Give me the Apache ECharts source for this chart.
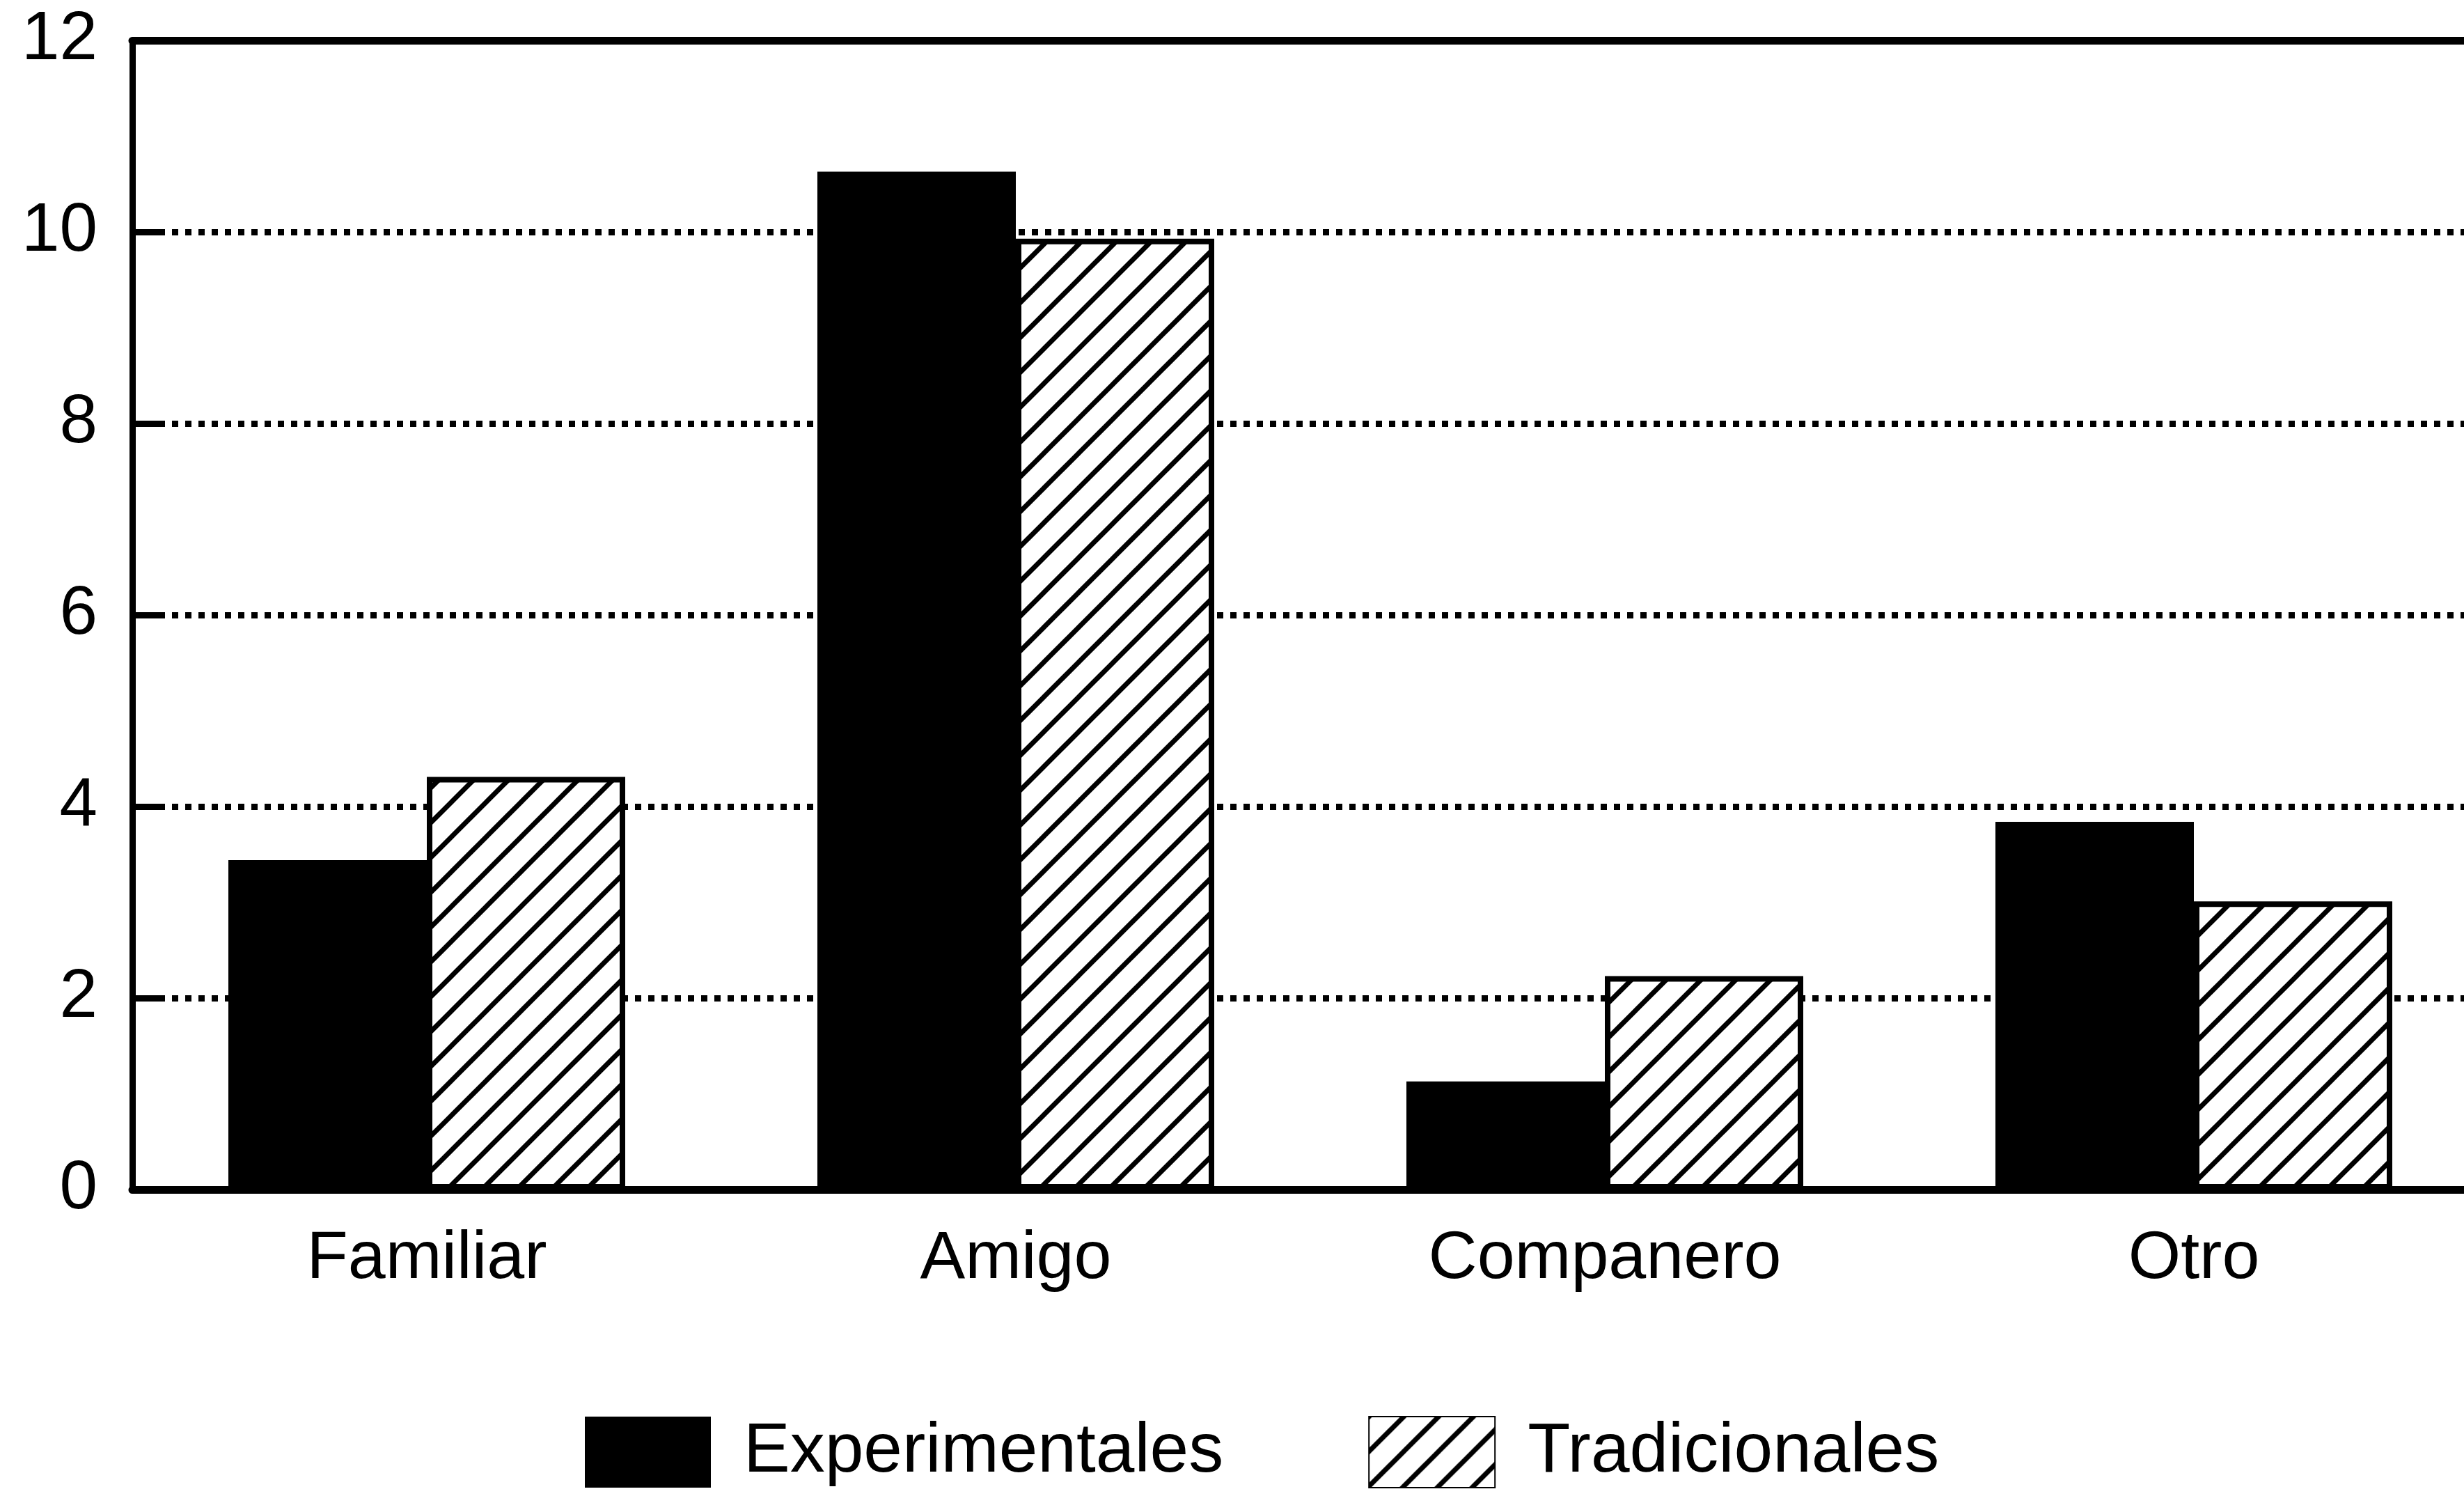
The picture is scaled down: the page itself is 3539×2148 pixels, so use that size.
<!DOCTYPE html>
<html>
<head>
<meta charset="utf-8">
<script src="https://cdn.jsdelivr.net/npm/echarts@6/dist/echarts.min.js"></script>
<style>
  html, body { margin: 0; padding: 0; background: #fff; }
  #chart { width: 3539px; height: 2148px; }
</style>
</head>
<body>
<div id="chart"></div>
<script>
var categories = ['Familiar', 'Amigo', 'Companero', 'Otro'];
var experimentales = [3.44, 10.63, 1.13, 3.84];
var tradicionales = [4.31, 9.93, 2.23, 3.01];
var yTicks = [0, 2, 4, 6, 8, 10, 12];

// diagonal hatch tile for the "Tradicionales" bars
function hatch() {
  var c = document.createElement('canvas');
  c.width = 50;
  c.height = 50;
  var ctx = c.getContext('2d');
  ctx.fillStyle = '#fff';
  ctx.fillRect(0, 0, 50, 50);
  ctx.strokeStyle = '#000';
  ctx.lineWidth = 7;
  [0, 50, 100].forEach(function (k) {
    ctx.beginPath();
    ctx.moveTo(-10, k + 10);
    ctx.lineTo(60, k - 60);
    ctx.stroke();
  });
  return c;
}

var font = 'Liberation Sans';
var chart = echarts.init(document.getElementById('chart'));

chart.setOption({
  backgroundColor: '#fff',
  animation: false,
  grid: {
    left: 190,
    right: -35,
    top: 58,
    bottom: 440,
    containLabel: false,
    outerBoundsMode: 'none'
  },
  legend: {
    left: 840,
    top: 2033,
    padding: 0,
    itemWidth: 181,
    itemHeight: 102,
    itemGap: 208,
    icon: 'rect',
    textStyle: {
      fontFamily: font,
      fontSize: 100,
      color: '#000',
      padding: [0, 0, 0, 42]
    },
    data: ['Experimentales', 'Tradicionales']
  },
  xAxis: [
    {
      type: 'category',
      data: categories,
      axisLine: { lineStyle: { color: '#000', width: 11 } },
      axisTick: { show: false },
      axisLabel: {
        color: '#000',
        fontFamily: font,
        fontSize: 97,
        margin: 52
      }
    },
    {
      type: 'category',
      position: 'top',
      data: categories,
      axisLine: { lineStyle: { color: '#000', width: 11 } },
      axisTick: { show: false },
      axisLabel: { show: false }
    }
  ],
  yAxis: {
    type: 'value',
    min: yTicks[0],
    max: yTicks[yTicks.length - 1],
    interval: 2,
    axisLine: { show: true, lineStyle: { color: '#000', width: 9 } },
    axisTick: {
      show: true,
      inside: true,
      length: 40,
      lineStyle: { color: '#000', width: 9 }
    },
    axisLabel: {
      color: '#000',
      fontFamily: font,
      fontSize: 98,
      margin: 50
    },
    splitLine: {
      show: true,
      lineStyle: { color: '#000', width: 9, type: [9, 10] }
    }
  },
  series: [
    {
      name: 'Experimentales',
      type: 'bar',
      data: experimentales,
      barWidth: 285,
      barGap: '0%',
      itemStyle: { color: '#000', borderColor: '#000', borderWidth: 0 }
    },
    {
      name: 'Tradicionales',
      type: 'bar',
      data: tradicionales,
      barWidth: 285,
      barGap: '0%',
      itemStyle: {
        color: { image: hatch(), repeat: 'repeat' },
        borderColor: '#000',
        borderWidth: 8
      }
    }
  ]
});
</script>
</body>
</html>
